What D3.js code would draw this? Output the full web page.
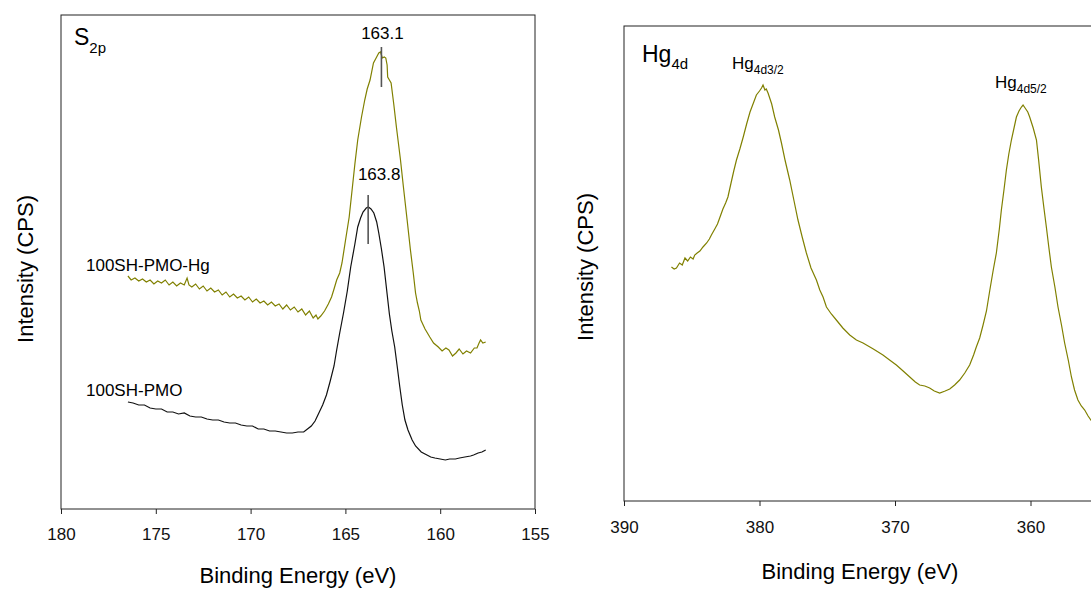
<!DOCTYPE html>
<html>
<head>
<meta charset="utf-8">
<script src="https://cdn.jsdelivr.net/npm/d3@7"></script>
<style>
  body { margin: 0; background: #fff; }
  svg { display: block; font-family: "Liberation Sans", Arial, sans-serif; }
  .frame { fill: none; stroke: #222; stroke-width: 1; }
  .axis path, .axis line { stroke: #222; }
  .axis text { font-size: 17px; fill: #111; font-family: "Liberation Sans", Arial, sans-serif; }
</style>
</head>
<body>
<div class="chart"></div>
<script>
// ---- S2p panel (binding energy eV, intensity a.u.) ----
const s2pTicks = [180, 175, 170, 165, 160, 155];

const pmoHgEV = [176.47, 176.3, 176.1, 175.9, 175.7, 175.5, 175.3, 175.1, 174.9, 174.7, 174.5, 174.3, 174.1, 173.9, 173.7, 173.5, 173.35, 173.25, 173.1, 172.9, 172.7, 172.5, 172.3, 172.1, 171.9, 171.7, 171.5, 171.3, 171.1, 170.9, 170.7, 170.5, 170.3, 170.1, 169.9, 169.7, 169.5, 169.3, 169.1, 168.9, 168.7, 168.5, 168.3, 168.1, 167.9, 167.7, 167.5, 167.3, 167.1, 166.9, 166.7, 166.55, 166.45, 166.3, 166.1, 165.9, 165.73, 165.6, 165.46, 165.3, 165.18, 165.0, 164.8, 164.63, 164.5, 164.35, 164.15, 163.98, 163.85, 163.7, 163.52, 163.38, 163.24, 163.15, 163.05, 162.95, 162.87, 162.8, 162.77, 162.68, 162.59, 162.45, 162.31, 162.1, 161.94, 161.75, 161.57, 161.42, 161.3, 161.2, 161.1, 161.02, 160.8, 160.55, 160.35, 160.1, 159.9, 159.7, 159.54, 159.35, 159.17, 159.0, 158.8, 158.61, 158.4, 158.2, 158.06, 157.95, 157.87, 157.75, 157.6];
const pmoHgI = [233, 229, 231, 228, 230, 227, 229, 225, 228, 226, 229, 224, 227, 223, 226, 224, 231, 224, 222, 225, 220, 223, 218, 221, 217, 219, 214, 217, 212, 215, 211, 213, 209, 212, 207, 210, 206, 208, 204, 207, 203, 205, 200, 204, 199, 202, 197, 200, 194, 198, 191, 194, 190, 193, 198, 205, 212, 220, 229, 236, 246, 268, 292, 322, 345, 369, 392, 409, 420, 429, 446, 451, 456, 457, 451, 452, 451, 444, 432, 429, 426, 405, 382, 350, 322, 290, 259, 236, 216, 206, 198, 189, 180, 172, 166, 162, 158, 161, 159, 153, 156, 160, 155, 158, 156, 161, 161, 166, 169, 166, 167];

const pmoEV = [176.47, 176.2, 175.9, 175.6, 175.3, 175.0, 174.7, 174.4, 174.1, 173.8, 173.5, 173.2, 172.9, 172.6, 172.3, 172.0, 171.7, 171.4, 171.1, 170.8, 170.5, 170.2, 169.9, 169.6, 169.3, 169.0, 168.7, 168.4, 168.1, 167.8, 167.5, 167.2, 167.0, 166.8, 166.6, 166.4, 166.2, 166.0, 165.8, 165.6, 165.46, 165.3, 165.1, 164.9, 164.72, 164.5, 164.35, 164.2, 164.07, 163.9, 163.79, 163.65, 163.5, 163.35, 163.24, 163.1, 162.96, 162.8, 162.68, 162.55, 162.4, 162.25, 162.13, 162.0, 161.86, 161.7, 161.48, 161.3, 161.0, 160.7, 160.5, 160.28, 160.0, 159.73, 159.5, 159.2, 158.98, 158.7, 158.4, 158.24, 158.0, 157.8, 157.6];
const pmoI = [107, 106, 104, 104, 101, 100, 100, 97, 97, 95, 96, 93, 92, 92, 90, 89, 89, 87, 86, 86, 84, 83, 83, 80, 80, 78, 78, 77, 76, 76, 77, 77, 80, 83, 88, 96, 104, 114, 128, 143, 159, 176, 196, 218, 242, 265, 282, 291, 297, 301, 302, 300, 296, 287, 276, 260, 242, 215, 195, 178, 162, 140, 122, 104, 89, 79, 69, 63, 57, 54, 52, 51, 50, 49, 50, 50, 51, 52, 53, 54, 56, 57, 59];

const s2pPeaks = [163.1, 163.8];
const s2pPeakLabels = ["163.1", "163.8"];
const s2pPeakTop = [462, 314];
const s2pPeakBottom = [422, 265];
const s2pSeriesNames = ["100SH-PMO-Hg", "100SH-PMO"];

// ---- Hg4d panel ----
const hgTicks = [390, 380, 370, 360];

const hgEV = [386.5, 386.3, 386.13, 385.9, 385.7, 385.5, 385.3, 385.1, 384.9, 384.78, 384.6, 384.4, 384.17, 383.9, 383.7, 383.55, 383.3, 383.1, 382.94, 382.7, 382.5, 382.33, 382.1, 381.9, 381.7, 381.45, 381.2, 380.95, 380.7, 380.45, 380.23, 380.0, 379.85, 379.74, 379.6, 379.5, 379.37, 379.1, 378.88, 378.6, 378.38, 378.1, 377.77, 377.45, 377.16, 376.85, 376.54, 376.2, 375.8, 375.55, 375.31, 375.06, 374.7, 374.33, 373.85, 373.34, 372.85, 372.36, 371.6, 370.89, 370.4, 369.9, 369.4, 368.91, 368.5, 368.18, 367.8, 367.44, 367.1, 366.7, 366.3, 365.96, 365.6, 365.23, 364.85, 364.49, 364.2, 364.0, 363.75, 363.5, 363.25, 363.0, 362.75, 362.52, 362.3, 362.15, 361.95, 361.78, 361.6, 361.41, 361.2, 361.04, 360.85, 360.67, 360.55, 360.4, 360.2, 360.06, 359.8, 359.56, 359.4, 359.2, 359.0, 358.83, 358.65, 358.46, 358.2, 357.97, 357.7, 357.48, 357.2, 356.98, 356.75, 356.5, 356.25, 356.0, 355.75, 355.55, 355.0, 354.5];
const hgI = [234, 232, 233, 238, 236, 243, 240, 244, 242, 246, 248, 250, 254, 258, 262, 266, 272, 277, 283, 292, 298, 304, 318, 330, 341, 352, 364, 377, 389, 398, 406, 410, 413, 416, 411, 412, 408, 397, 384, 371, 358, 340, 321, 300, 281, 264, 248, 233, 221, 211, 204, 194, 187, 181, 173, 166, 161, 158, 152, 146, 141, 136, 130, 124, 119, 116, 115, 113, 110, 108, 110, 112, 116, 121, 128, 136, 146, 154, 163, 176, 190, 211, 231, 248, 272, 291, 312, 331, 347, 361, 374, 384, 390, 394, 396, 393, 389, 384, 373, 361, 341, 314, 292, 274, 254, 234, 214, 194, 175, 158, 140, 124, 111, 101, 95, 91, 85, 81, 72, 65];

const olive = "#808000";

const svg = d3.select(".chart").append("svg")
    .attr("width", 1091)
    .attr("height", 590);

/************* S2p panel ***********/
let m1 = {left: 61, top: 15, right: 535, bottom: 509};

let x1 = d3.scaleLinear().domain([180, 155]).range([m1.left, m1.right]);
let y1 = d3.scaleLinear().domain([0, 494]).range([m1.bottom, m1.top]);

svg.append("rect")
    .attr("class", "frame")
    .attr("x", m1.left).attr("y", m1.top)
    .attr("width", m1.right - m1.left).attr("height", m1.bottom - m1.top);

svg.append("g")
    .attr("class", "axis")
    .attr("transform", "translate(0," + m1.bottom + ")")
    .call(d3.axisBottom(x1).tickValues(s2pTicks).tickSize(5).tickSizeOuter(0).tickPadding(14).tickFormat(d3.format("d")))
    .call(g => g.select(".domain").remove());

let line1 = d3.line().x(d => x1(d[0])).y(d => y1(d[1]));

svg.append("path")
    .datum(d3.zip(pmoHgEV, pmoHgI))
    .attr("fill", "none").attr("stroke", olive).attr("stroke-width", 1.2)
    .attr("d", line1);

svg.append("path")
    .datum(d3.zip(pmoEV, pmoI))
    .attr("fill", "none").attr("stroke", "#111").attr("stroke-width", 1.2)
    .attr("d", line1);

// peak markers
s2pPeaks.forEach((p, i) => {
    svg.append("line")
        .attr("x1", x1(p)).attr("x2", x1(p))
        .attr("y1", y1(s2pPeakTop[i])).attr("y2", y1(s2pPeakBottom[i]))
        .attr("stroke", "#555").attr("stroke-width", 1.6);
});
svg.append("text").attr("x", x1(163.1) + 1).attr("y", 39)
    .attr("text-anchor", "middle").attr("font-size", 17).text(s2pPeakLabels[0]);
svg.append("text").attr("x", x1(163.8) + 11).attr("y", 180)
    .attr("text-anchor", "middle").attr("font-size", 17).text(s2pPeakLabels[1]);

// series labels
svg.append("text").attr("x", 86).attr("y", 271).attr("font-size", 17).text(s2pSeriesNames[0]);
svg.append("text").attr("x", 86).attr("y", 396).attr("font-size", 17).text(s2pSeriesNames[1]);

// panel title S2p
let t1 = svg.append("text").attr("x", 74).attr("y", 45).attr("font-size", 23);
t1.append("tspan").text("S");
t1.append("tspan").attr("dy", 8).attr("font-size", 15).text("2p");

// axis titles
svg.append("text")
    .attr("x", (m1.left + m1.right) / 2).attr("y", 583)
    .attr("text-anchor", "middle").attr("font-size", 22)
    .text("Binding Energy (eV)");
svg.append("text")
    .attr("transform", "translate(33,269) rotate(-90)")
    .attr("text-anchor", "middle").attr("font-size", 22)
    .text("Intensity (CPS)");

/************* Hg4d panel ***********/
let m2 = {left: 624, top: 26, right: 1166, bottom: 501};

let x2 = d3.scaleLinear().domain([390, 350]).range([m2.left, m2.right]);
let y2 = d3.scaleLinear().domain([0, 475]).range([m2.bottom, m2.top]);

svg.append("rect")
    .attr("class", "frame")
    .attr("x", m2.left).attr("y", m2.top)
    .attr("width", m2.right - m2.left).attr("height", m2.bottom - m2.top);

svg.append("g")
    .attr("class", "axis")
    .attr("transform", "translate(0," + m2.bottom + ")")
    .call(d3.axisBottom(x2).tickValues(hgTicks).tickSize(5).tickSizeOuter(0).tickPadding(15).tickFormat(d3.format("d")))
    .call(g => g.select(".domain").remove());

let line2 = d3.line().x(d => x2(d[0])).y(d => y2(d[1]));

svg.append("path")
    .datum(d3.zip(hgEV, hgI))
    .attr("fill", "none").attr("stroke", olive).attr("stroke-width", 1.2)
    .attr("d", line2);

let t2 = svg.append("text").attr("x", 642).attr("y", 62).attr("font-size", 23);
t2.append("tspan").text("Hg");
t2.append("tspan").attr("dy", 7).attr("font-size", 15).text("4d");

let t3 = svg.append("text").attr("x", 732).attr("y", 69).attr("font-size", 17);
t3.append("tspan").text("Hg");
t3.append("tspan").attr("dy", 5).attr("font-size", 12).text("4d3/2");

let t4 = svg.append("text").attr("x", 995).attr("y", 88).attr("font-size", 17);
t4.append("tspan").text("Hg");
t4.append("tspan").attr("dy", 5).attr("font-size", 12).text("4d5/2");

svg.append("text")
    .attr("x", 860).attr("y", 579)
    .attr("text-anchor", "middle").attr("font-size", 22)
    .text("Binding Energy (eV)");
svg.append("text")
    .attr("transform", "translate(593,267) rotate(-90)")
    .attr("text-anchor", "middle").attr("font-size", 22)
    .text("Intensity (CPS)");
</script>
</body>
</html>
